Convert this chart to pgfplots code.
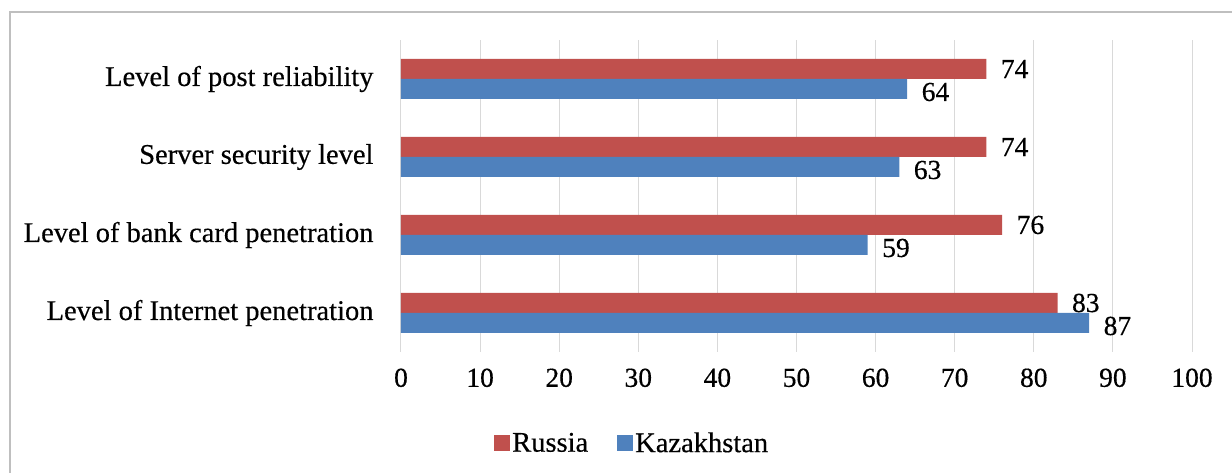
\documentclass[border=0pt]{standalone}
\usepackage{pgfplots}
\pgfplotsset{compat=1.18}
\usepackage{fontspec}
\setmainfont{Liberation Serif}[FakeBold=0.4]
\definecolor{rus}{HTML}{C0504D}
\definecolor{kaz}{HTML}{4F81BD}
\newcommand{\fs}{\fontsize{27.5}{31}\selectfont}
\newcommand{\fc}{\fontsize{28.5}{32}\selectfont}
\begin{document}
\begin{tikzpicture}[x=1pt,y=1pt]
\useasboundingbox (0,0) rectangle (1232,473);
\draw[color=black!25, line width=1.5pt] (10,0) -- (10,461) -- (1232,461);
\begin{axis}[
 at={(401pt,121pt)}, anchor=south west,
 scale only axis, width=791pt, height=312pt,
 xbar, bar width=20pt,
 xmin=0, xmax=100, ymin=-0.5, ymax=3.5,
 xtick={0,10,...,100}, ytick={0,1,2,3},
 yticklabels={Level of Internet penetration, Level of bank card penetration, Server security level, Level of post reliability},
 axis line style={draw=none},
 major tick length=0pt,
 xmajorgrids, grid style={color=black!15, line width=1pt},
 xticklabel style={font=\fs, yshift=-13pt},
 yticklabel style={font=\fc, xshift=-24pt},
 /pgf/number format/assume math mode=true,
 nodes near coords, nodes near coords style={anchor=west, font=\fs, xshift=11pt, text=black},
 legend style={at={(0.1176,-0.2917)}, anchor=west, draw=none, font=\fc, legend columns=2, inner sep=0pt, /tikz/every even column/.append style={column sep=27pt}},
 legend image code/.code={\fill (0pt,-8pt) rectangle (16pt,8pt);},
 clip=false,
]
\addplot[fill=rus, draw=none, bar shift=10pt] coordinates {(83,0) (76,1) (74,2) (74,3)};
\addplot[fill=kaz, draw=none, bar shift=-10pt, nodes near coords style={yshift=-3pt}] coordinates {(87,0) (59,1) (63,2) (64,3)};
\legend{Russia, Kazakhstan}
\end{axis}
\end{tikzpicture}
\end{document}
